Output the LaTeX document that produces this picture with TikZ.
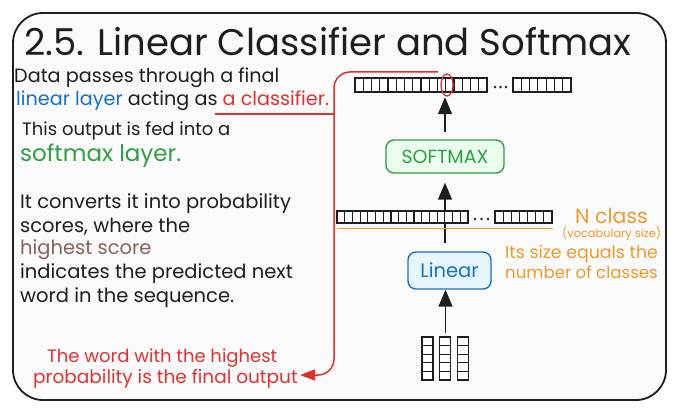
\documentclass[tikz,border=0pt]{standalone}
\usepackage{fontspec}
\setmainfont{Poppins}
\usetikzlibrary{arrows.meta,calc,shapes.geometric}
\definecolor{ink}{HTML}{1E1E1E}
\definecolor{paper}{HTML}{FAFAFA}
\definecolor{bluec}{HTML}{1971C2}
\definecolor{bluefill}{HTML}{E7F5FF}
\definecolor{redc}{HTML}{E03131}
\definecolor{greenc}{HTML}{2F9E44}
\definecolor{greenfill}{HTML}{EBFBEE}
\definecolor{orangec}{HTML}{EB9A2A}
\definecolor{brownc}{HTML}{846358}
\newcommand\fs[1]{\fontsize{#1}{#1}\selectfont}
\newcommand\cellrow[5]{%
  \draw[cellline, fill=white] (#1,#3) rectangle (#2,#4);
  \pgfmathsetmacro\cw{(#2-#1)/#5}
  \pgfmathtruncatemacro\cn{#5-1}
  \foreach \k in {1,...,\cn}{\draw[cellline] ({#1+\k*\cw},#3) -- ({#1+\k*\cw},#4);}
}
\newcommand\cellcol[5]{%
  \draw[cellline, fill=white] (#1,#3) rectangle (#2,#4);
  \pgfmathsetmacro\ch{(#4-#3)/#5}
  \pgfmathtruncatemacro\cn{#5-1}
  \foreach \k in {1,...,\cn}{\draw[cellline] (#1,{#3+\k*\ch}) -- (#2,{#3+\k*\ch});}
}
\begin{document}
\begin{tikzpicture}[x=1pt,y=-1pt,
  txt/.style={inner sep=0pt, anchor=base west, text=ink, font=\fs{19.5}},
  cellline/.style={draw=ink, line width=1.2pt},
  arr/.style={draw=ink, line width=1.5pt, -{Triangle[width=14pt,length=17pt]}},
  box/.style={rounded corners=8pt, line width=1.4pt, inner sep=0pt},
  dot/.style={fill=ink, circle, inner sep=0pt, minimum size=2.8pt}]
\useasboundingbox (0,0) rectangle (680,412);
\fill[white] (0,0) rectangle (680,412);
\draw[ink, line width=1.8pt, fill=paper, rounded corners=30pt] (13,13) rectangle (666,400);

% title
\node[txt, font=\fs{37}] (title) at (24,56) {2.5. Linear Classifier and Softmax};

% left texts
\node[txt, font=\fs{19.2}] (l1) at (14,82) {Data passes through a final};
\node[txt, font=\fs{19.2}] (l2) at (16,106) {{\color{bluec}linear layer} acting as {\color{redc}a classifier.}};
\node[txt, font=\fs{18}] (l3) at (22,135) {This output is fed into a};
\node[txt, text=greenc, font=\fs{23}] (l4) at (20,161) {softmax layer.};
\node[txt] (l5) at (20,208) {It converts it into probability};
\node[txt] (l6) at (20,232) {scores, where the};
\node[txt, text=brownc] (l7) at (20,254) {highest score};
\node[txt] (l8) at (20,278) {indicates the predicted next};
\node[txt] (l9) at (20,302) {word in the sequence.};
\node[txt, text=redc, font=\fs{18}] (r1) at (47,362) {The word with the highest};
\node[txt, text=redc, font=\fs{18.5}] (r2) at (33,383) {probability is the final output};

% right texts
\node[txt, text=orangec, font=\fs{20.5}] (ncl) at (575,223) {N class};
\node[txt, text=orangec, font=\fs{11.4}] (voc) at (562,237) {(vocabulary size)};
\node[txt, text=orangec, font=\fs{17.4}] (its1) at (505,258) {Its size equals the};
\node[txt, text=orangec, font=\fs{16.6}] (its2) at (505,278) {number of classes};

% boxes
\node[box, draw=greenc, fill=greenfill, text=greenc, minimum width=118pt, minimum height=33pt, font=\fs{19}] (soft) at (445,156.5) {SOFTMAX};
\node[box, draw=bluec, fill=bluefill, text=bluec, minimum width=83pt, minimum height=37pt, font=\fs{19.5}] (lin) at (449.5,270.5) {Linear};

% placeholders for bars and tokens
\node[inner sep=0pt, minimum width=132pt, minimum height=14pt] (bar1) at (421,85) {};
\node[inner sep=0pt, minimum width=47pt, minimum height=43pt] (tok) at (445.5,358.5) {};

% arrows
\draw[arr, shorten <=4pt] (tok.north) -- (tok.north |- lin.south);
\draw[arr, shorten <=8pt, shorten >=9pt] (lin.north -| soft.south) -- (soft.south);
\draw[arr, shorten <=7pt, shorten >=5pt] (soft.north) -- (soft.north |- bar1.south);

% top bar
\cellrow{355}{487}{78}{92}{16}
\node[dot] (d1) at (495,87) {};
\node[dot] (d2) at (500.5,87) {};
\node[dot] (d3) at (506,87) {};
\cellrow{513}{571}{78}{92}{7}

% middle bar
\cellrow{337}{468}{211}{223}{17}
\node[dot] (d4) at (475,219) {};
\node[dot] (d5) at (481.5,219) {};
\node[dot] (d6) at (488,219) {};
\cellrow{495}{552}{211}{223}{7}
\draw[orangec, line width=1.8pt] (337,228.5) -- (553,228.5);

% tokens
\cellcol{422}{433}{337}{380}{5}
\cellcol{439.5}{450.5}{337}{380}{5}
\cellcol{457.5}{468.5}{337}{380}{5}

% red highlight and connector
\node[draw=redc, line width=1.3pt, ellipse, minimum width=12pt, minimum height=22pt, inner sep=0pt] (sel) at (447,85) {};
\coordinate (rstart) at (438,72);
\coordinate (ulstart) at (215,114);
\coordinate (rend) at (300,375);
\draw[redc, line width=1.5pt] (ulstart) -- (334,114);
\draw[redc, line width=1.5pt, rounded corners=16pt, -{Triangle[width=11pt,length=15pt]}]
  (rstart) -- (334,72) -- (334,375) -- (rend);
\end{tikzpicture}
\end{document}
